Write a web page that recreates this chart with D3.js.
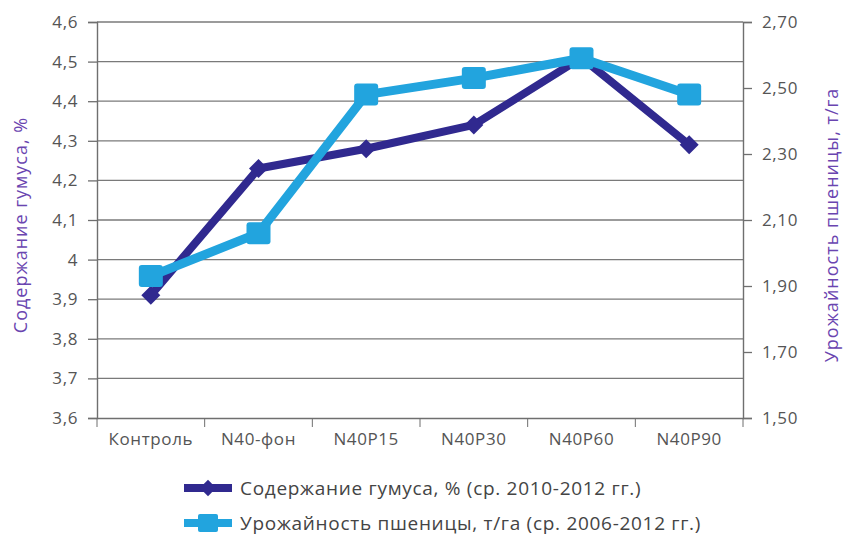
<!DOCTYPE html>
<html>
<head>
<meta charset="utf-8">
<script src="https://cdn.jsdelivr.net/npm/d3@7"></script>
<style>
  body { margin: 0; background: #fff; }
  svg, svg text { font-family: "Open Sans", "Noto Sans", sans-serif; }
</style>
</head>
<body>
<svg id="chart" width="843" height="538"></svg>
<script>
// data
const categories = ["Контроль", "N40-фон", "N40P15", "N40P30", "N40P60", "N40P90"];
const humus = [3.91, 4.23, 4.28, 4.34, 4.51, 4.29];
const yieldT = [1.93, 2.06, 2.48, 2.53, 2.59, 2.48];
const leftTicks = [3.6, 3.7, 3.8, 3.9, 4.0, 4.1, 4.2, 4.3, 4.4, 4.5, 4.6];
const rightTicks = [1.5, 1.7, 1.9, 2.1, 2.3, 2.5, 2.7];
const seriesNames = ["Содержание гумуса, % (ср. 2010-2012 гг.)", "Урожайность пшеницы, т/га (ср. 2006-2012 гг.)"];

const DARK = "#30298f";
const LIGHT = "#22a4de";
const LABEL = "#6a45b0";

const svg = d3.select("#chart");
const margin = {left: 97, right: 100, top: 22, bottom: 120};
const W = 843, H = 538;

const x = d3.scaleBand().domain(categories).range([margin.left, W - margin.right]);
const yL = d3.scaleLinear().domain([3.6, 4.6]).range([H - margin.bottom, margin.top]);
const yR = d3.scaleLinear().domain([1.5, 2.7]).range([H - margin.bottom, margin.top]);

// gridlines
svg.append("g")
  .selectAll("line")
  .data(leftTicks.slice(1))
  .join("line")
  .attr("x1", margin.left).attr("x2", W - margin.right)
  .attr("y1", d => yL(d)).attr("y2", d => yL(d))
  .attr("stroke", "#7a7a7a").attr("stroke-width", 1.3);

const fmt = d => d === 4 ? "4" : d3.format(".1f")(d).replace(".", ",");

const axL = svg.append("g")
  .attr("transform", `translate(${margin.left},0)`)
  .call(d3.axisLeft(yL).tickValues(leftTicks).tickFormat(fmt).tickSize(9).tickPadding(10));
const axR = svg.append("g")
  .attr("transform", `translate(${W - margin.right},0)`)
  .call(d3.axisRight(yR).tickValues(rightTicks).tickFormat(d => d3.format(".2f")(d).replace(".", ",")).tickSize(9).tickPadding(10));
const axX = svg.append("g")
  .attr("transform", `translate(0,${H - margin.bottom})`)
  .call(d3.axisBottom(x).tickSize(0).tickPadding(15));

// category boundary ticks on the x axis
axX.selectAll("line.bound")
  .data(d3.range(categories.length + 1))
  .join("line")
  .attr("class", "bound")
  .attr("x1", i => margin.left + i * x.step())
  .attr("x2", i => margin.left + i * x.step())
  .attr("y1", 0).attr("y2", 9)
  .attr("stroke", "#6f6f6f");

[axL, axR, axX].forEach(a => {
  a.attr("font-family", null);
  a.select(".domain").attr("stroke", "#6f6f6f").attr("stroke-width", 1.4);
  a.selectAll(".tick line").attr("stroke", "#6f6f6f").attr("stroke-width", 1.3);
  a.selectAll("text").attr("fill", "#555").style("font-size", "17px").style("letter-spacing", "0.6px");
});

// axis titles
svg.append("text")
  .attr("transform", `translate(27,${(margin.top + H - margin.bottom) / 2 + 5}) rotate(-90)`)
  .attr("text-anchor", "middle")
  .attr("fill", LABEL).style("font-size", "18px").style("letter-spacing", "1px")
  .text("Содержание гумуса, %");
svg.append("text")
  .attr("transform", `translate(838,${(margin.top + H - margin.bottom) / 2 + 5}) rotate(-90)`)
  .attr("text-anchor", "middle")
  .attr("fill", LABEL).style("font-size", "18px").style("letter-spacing", "1px")
  .text("Урожайность пшеницы, т/га");

const cx = d => x(d) + x.bandwidth() / 2;

// humus series
svg.append("path")
  .datum(humus)
  .attr("fill", "none").attr("stroke", DARK).attr("stroke-width", 8)
  .attr("stroke-linejoin", "round")
  .attr("d", d3.line().x((d, i) => cx(categories[i])).y(d => yL(d)));
svg.append("g").selectAll("path")
  .data(humus)
  .join("path")
  .attr("transform", (d, i) => `translate(${cx(categories[i])},${yL(d)})`)
  .attr("d", d3.symbol(d3.symbolDiamond2, 230))
  .attr("fill", DARK);

// yield series
svg.append("path")
  .datum(yieldT)
  .attr("fill", "none").attr("stroke", LIGHT).attr("stroke-width", 9)
  .attr("stroke-linejoin", "round")
  .attr("d", d3.line().x((d, i) => cx(categories[i])).y(d => yR(d)));
svg.append("g").selectAll("rect")
  .data(yieldT)
  .join("rect")
  .attr("x", (d, i) => cx(categories[i]) - 12)
  .attr("y", d => yR(d) - 11)
  .attr("width", 24).attr("height", 22).attr("rx", 3)
  .attr("fill", LIGHT);

// legend
const legend = svg.append("g");
const legY = [488, 523];
[DARK, LIGHT].forEach((c, i) => {
  const g = legend.append("g").attr("transform", `translate(208,${legY[i]})`);
  g.append("line").attr("x1", -24).attr("x2", 24).attr("stroke", c).attr("stroke-width", 8);
  if (i === 0) {
    g.append("path").attr("d", d3.symbol(d3.symbolDiamond2, 170)).attr("fill", c);
  } else {
    g.append("rect").attr("x", -10).attr("y", -9).attr("width", 20).attr("height", 18).attr("rx", 2).attr("fill", c);
  }
  g.append("text").attr("x", 32).attr("dy", "0.36em")
    .attr("fill", "#444").style("font-size", "19px").style("letter-spacing", "0.7px")
    .text(seriesNames[i]);
});
</script>
</body>
</html>
